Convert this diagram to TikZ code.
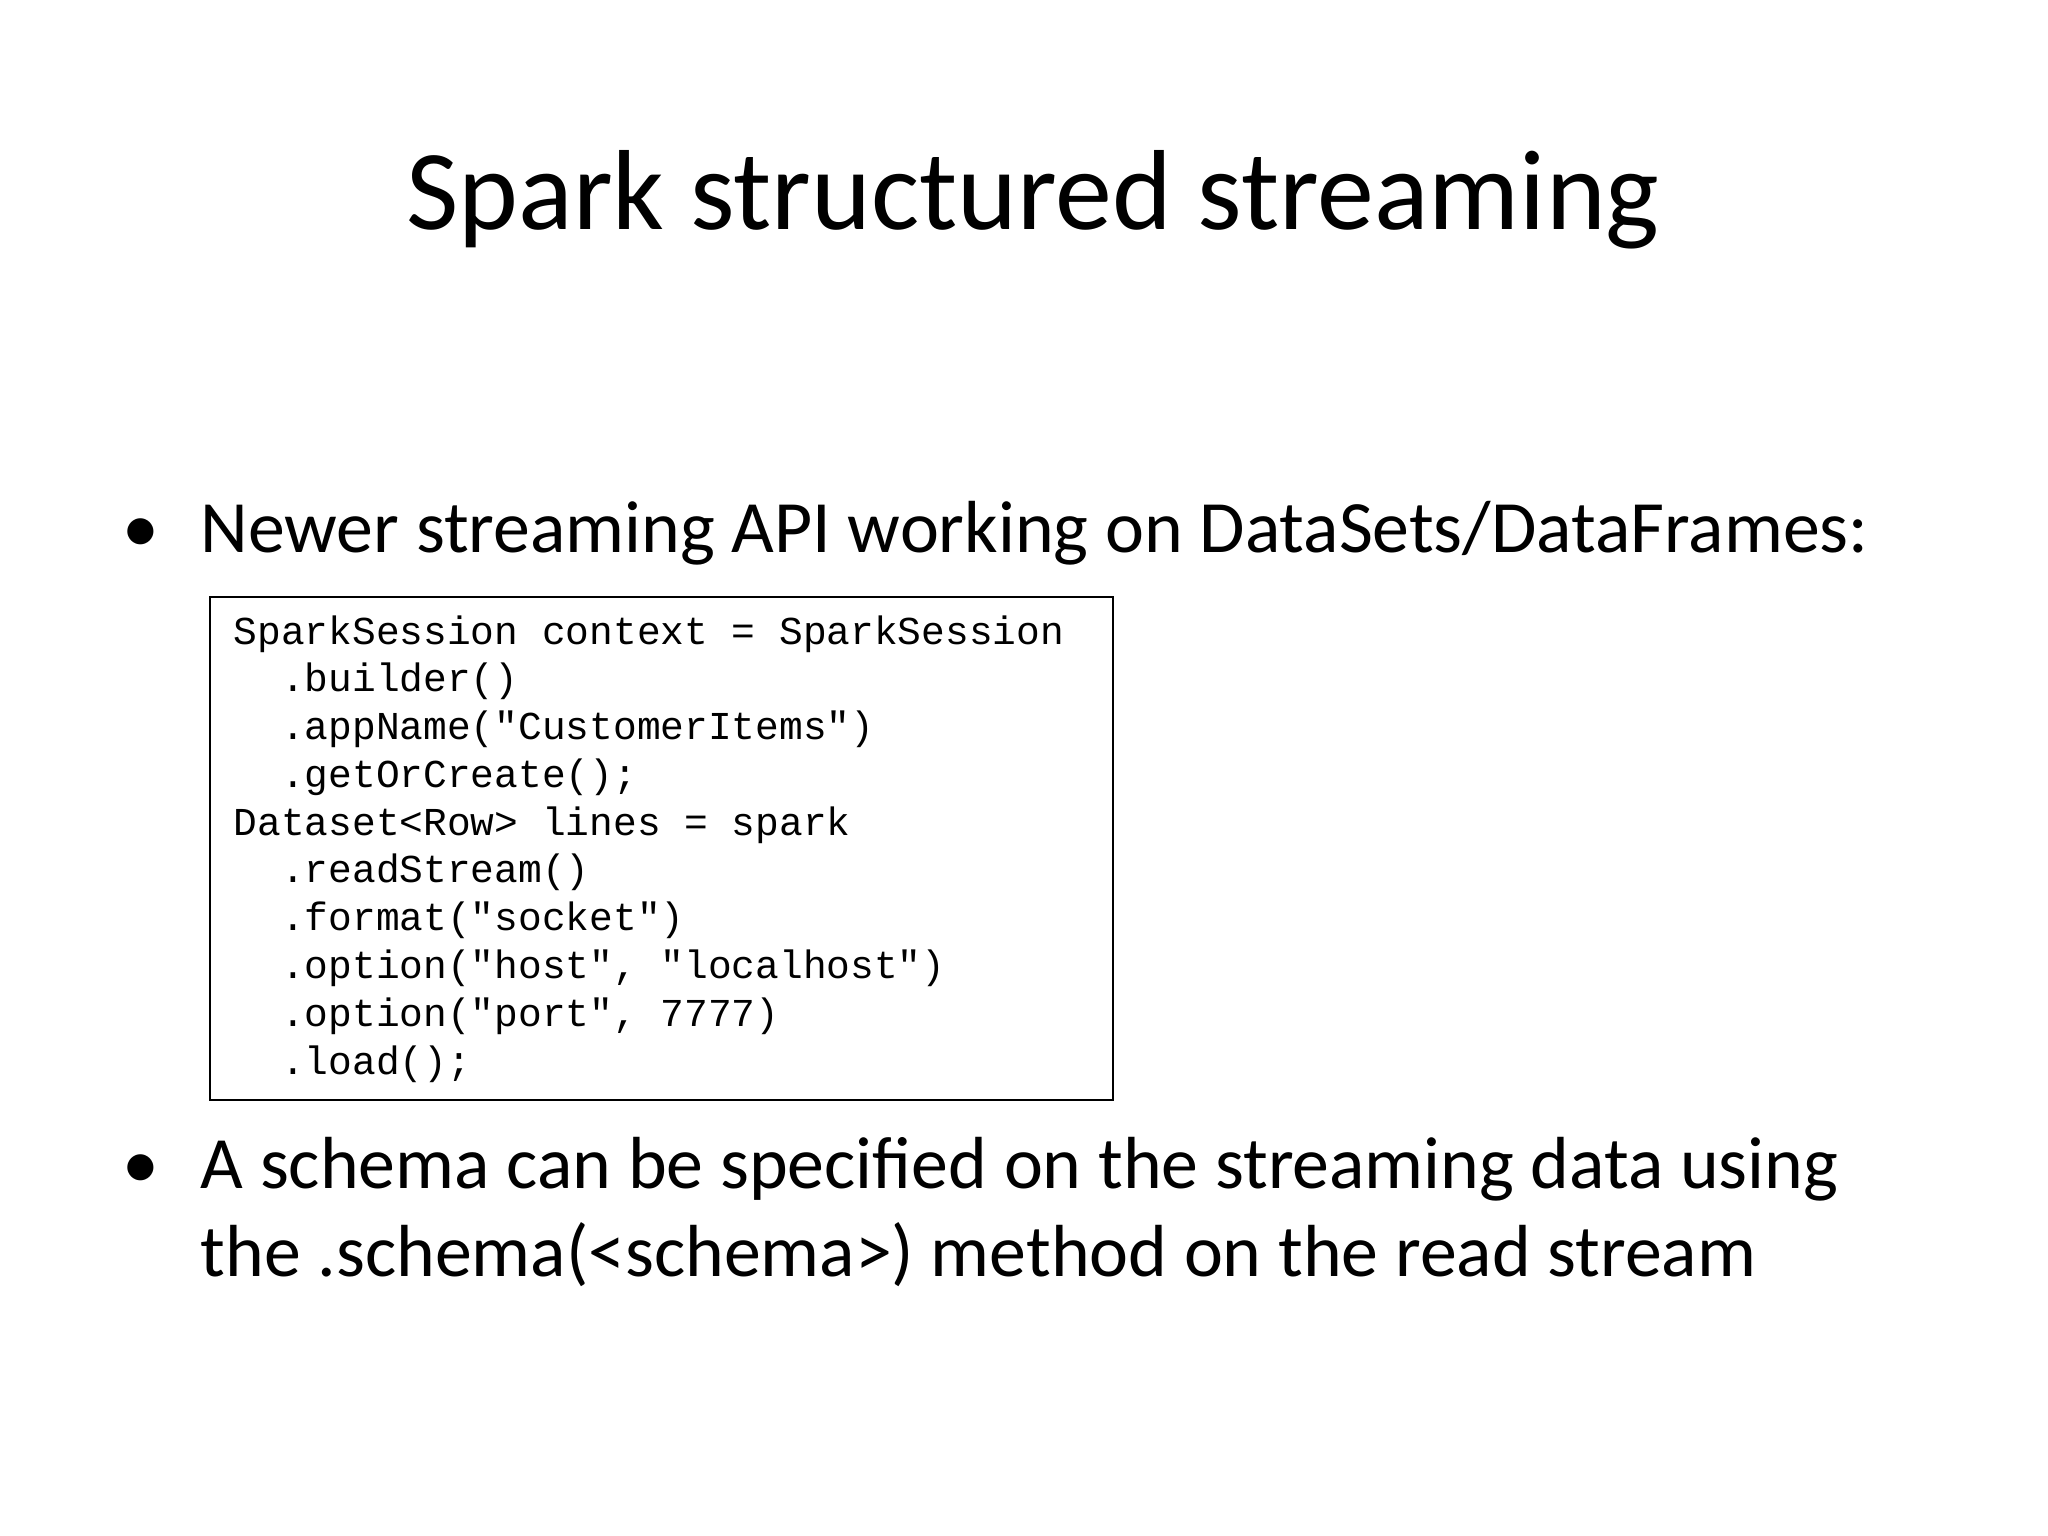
\documentclass[tikz,border=0pt]{standalone}
\usepackage{fontspec}
\setmainfont{Carlito}
\newfontfamily\codefont{Liberation Mono}
\begin{document}
\begin{tikzpicture}[x=1cm,y=-1cm,
  txt/.style={anchor=base west,inner sep=0pt,font=\fontsize{21pt}{25pt}\selectfont},
  code/.style={anchor=base west,inner sep=0pt,font=\codefont\fontsize{11.25pt}{13.5pt}\selectfont}]
\useasboundingbox[fill=white] (0,0) rectangle (20.48,15.36);
\node[anchor=base,inner sep=0pt,font=\fontsize{32.4pt}{39pt}\selectfont] (title) at (10.33,2.30) {Spark structured streaming};
\node[txt] (b1d) at (1.22,5.52) {•};
\node[txt] (b1) at (2.00,5.52) {Newer streaming API working on DataSets/DataFrames:};
\draw[line width=0.6pt] (2.10,5.97) rectangle (11.13,11.00);
\foreach \t [count=\i from 0] in {%
 {SparkSession context = SparkSession},
 {\ \ .builder()},
 {\ \ .appName("CustomerItems")},
 {\ \ .getOrCreate();},
 {Dataset<Row> lines = spark},
 {\ \ .readStream()},
 {\ \ .format("socket")},
 {\ \ .option("host", "localhost")},
 {\ \ .option("port", 7777)},
 {\ \ .load();}}
 \node[code] (c\i) at (2.33,6.44+0.478*\i) {\t};
\node[txt] (b2d) at (1.22,11.88) {•};
\node[txt] (b2) at (2.00,11.88) {A schema can be specified on the streaming data using};
\node[txt] (b2b) at (2.00,12.76) {the .schema(<schema>) method on the read stream};
\end{tikzpicture}
\end{document}
